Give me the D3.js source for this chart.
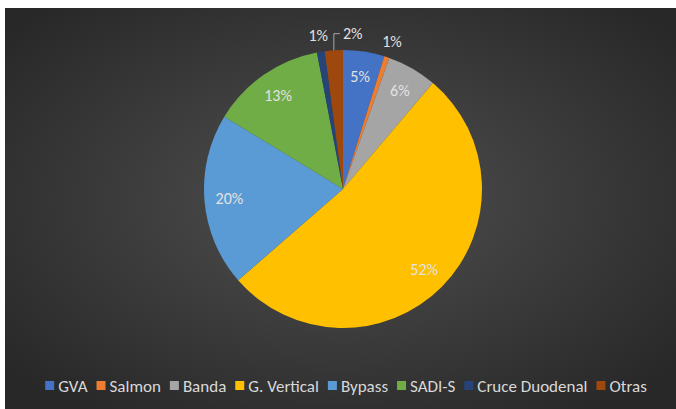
<!DOCTYPE html>
<html>
<head>
<meta charset="utf-8">
<script src="https://cdn.jsdelivr.net/npm/d3@7"></script>
<style>
  body { margin: 0; background: #fff; }
  svg text { font-family: Carlito, Calibri, "Liberation Sans Narrow", Lato, sans-serif; }
</style>
</head>
<body>
<div id="chart"></div>
<script>
// data (percent)
const categories = ["GVA", "Salmon", "Banda", "G. Vertical", "Bypass", "SADI-S", "Cruce Duodenal", "Otras"];
const values = [4.8, 0.6, 5.8, 52.4, 20.1, 13.3, 0.9, 2.1];
const labels = ["5%", "1%", "6%", "52%", "20%", "13%", "1%", "2%"];
const colors = ["#4472C4", "#ED7D31", "#A5A5A5", "#FFC000", "#5B9BD5", "#70AD47", "#264478", "#9E480E"];

function drawPie() {
    let width = 676, height = 409;
    let cx = 343, cy = 189, radius = 139;

    let svg = d3.select('#chart')
        .append('svg')
        .attr('width', width)
        .attr('height', height);

    // dark radial background
    let grad = svg.append('defs').append('radialGradient')
        .attr('id', 'bg')
        .attr('cx', '50%').attr('cy', '48%').attr('r', '65%');
    grad.append('stop').attr('offset', '0%').attr('stop-color', '#505050');
    grad.append('stop').attr('offset', '100%').attr('stop-color', '#282828');

    svg.append('rect')
        .attr('x', 5).attr('y', 8)
        .attr('width', width - 5).attr('height', height - 8)
        .attr('fill', 'url(#bg)');

    let data = categories.map((c, i) => ({ name: c, value: values[i], label: labels[i], color: colors[i] }));

    let pie = d3.pie().sort(null).value(d => d.value);
    let arcs = pie(data);

    let arc = d3.arc().innerRadius(0).outerRadius(radius);
    let inLabel = d3.arc().innerRadius(radius * 0.82).outerRadius(radius * 0.82);
    let outLabel = d3.arc().innerRadius(radius * 1.12).outerRadius(radius * 1.12);
    let edge = d3.arc().innerRadius(radius).outerRadius(radius);

    let g = svg.append('g').attr('transform', `translate(${cx},${cy})`);

    g.selectAll('path')
        .data(arcs)
        .join('path')
        .attr('d', arc)
        .attr('fill', d => d.data.color);

    // labels inside the big slices
    g.selectAll('.inLabel')
        .data(arcs.filter(d => d.data.value >= 3))
        .join('text')
        .attr('class', 'inLabel')
        .attr('transform', d => `translate(${inLabel.centroid(d)})`)
        .attr('text-anchor', 'middle')
        .attr('dy', '0.35em')
        .attr('font-size', 16)
        .attr('fill', '#e2e2e2')
        .text(d => d.data.label);

    // small slices get their labels outside, pushed right if they collide
    let placed = [];
    arcs.filter(d => d.data.value < 3).forEach(d => {
        let [x, y] = outLabel.centroid(d);
        let t = g.append('text')
            .attr('font-size', 16)
            .attr('fill', '#e2e2e2')
            .attr('dy', '0.35em')
            .text(d.data.label);
        let w = t.node().getComputedTextLength();
        let left = x - w / 2;
        let hit = placed.find(p => Math.abs(p.y - y) < 14 && left < p.right + 4 && left + w > p.left - 4);
        if (hit) {
            left = hit.right + 15;
            let [ex, ey] = edge.centroid(d);
            g.append('polyline')
                .attr('points', [[ex, ey], [ex, y], [left - 3, y]].map(p => p.join(',')).join(' '))
                .attr('fill', 'none')
                .attr('stroke', '#a6a6a6')
                .attr('stroke-width', 1);
        }
        t.attr('x', left).attr('y', y);
        placed.push({ left: left, right: left + w, y: y });
    });

    // legend, centred along the bottom
    let legend = svg.append('g');
    let items = legend.selectAll('g')
        .data(data)
        .join('g');
    items.append('rect')
        .attr('width', 9).attr('height', 9)
        .attr('y', -5)
        .attr('fill', d => d.color);
    items.append('text')
        .attr('x', 13)
        .attr('dy', '0.35em')
        .attr('font-size', 17)
        .attr('fill', '#d9d9d9')
        .text(d => d.name);

    let xpos = 0;
    items.each(function() {
        let w = d3.select(this).select('text').node().getComputedTextLength();
        d3.select(this).attr('transform', `translate(${xpos},0)`);
        xpos += 13 + w + 9;
    });
    legend.attr('transform', `translate(${346 - (xpos - 9) / 2},386)`);
}

drawPie();
</script>
</body>
</html>
